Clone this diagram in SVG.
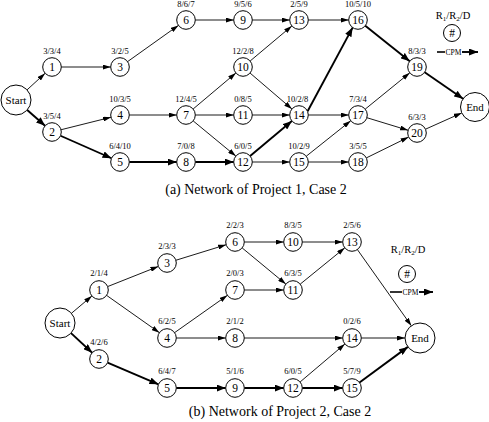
<svg xmlns="http://www.w3.org/2000/svg" width="489" height="422" viewBox="0 0 489 422">
<style>
  text { font-family: "Liberation Serif", "Times New Roman", serif; fill: #000; text-anchor: middle; }
  .nd circle { fill: #fff; stroke: #000; stroke-width: 1; }
  .num { font-size: 11.5px; }
  .se { font-size: 11px; }
  .lbl { font-size: 8.5px; }
  .cap { font-size: 14px; }
  .leg { font-size: 10.5px; }
  .cpm { font-size: 7.5px; text-anchor: start; }
  .thin { stroke: #000; stroke-width: 0.9; fill: none; marker-end: url(#ah); }
  .bold { stroke: #000; stroke-width: 1.9; fill: none; marker-end: url(#ahb); }
  .plain { stroke: #000; stroke-width: 1.6; fill: none; }
</style>
<defs>
  <marker id="ah" markerUnits="userSpaceOnUse" viewBox="0 0 8 5" refX="8" refY="2.5" markerWidth="8" markerHeight="5" orient="auto">
    <path d="M0,0 L8,2.5 L0,5 Z" fill="#000"/>
  </marker>
  <marker id="ahb" markerUnits="userSpaceOnUse" viewBox="0 0 9 7" refX="9" refY="3.5" markerWidth="9" markerHeight="7" orient="auto">
    <path d="M0,0 L9,3.5 L0,7 Z" fill="#000"/>
  </marker>
</defs>
<rect width="489" height="422" fill="#fff"/>

<!-- ===== Project 1 connectors ===== -->
<g id="p1-connectors">
  <line class="thin" x1="27.06" y1="89.86" x2="45.14" y2="73.28"/>
  <line class="bold" x1="27.21" y1="109.96" x2="45.05" y2="125.82"/>
  <line class="thin" x1="61.3" y1="67" x2="110.7" y2="67"/>
  <line class="thin" x1="127.58" y1="61.61" x2="178.42" y2="25.39"/>
  <line class="thin" x1="195.3" y1="20" x2="233.7" y2="20"/>
  <line class="thin" x1="252.3" y1="20" x2="289.7" y2="20"/>
  <line class="thin" x1="308.3" y1="20" x2="348.7" y2="20"/>
  <line class="bold" x1="365.27" y1="25.79" x2="409.73" y2="61.21"/>
  <line class="bold" x1="424.66" y1="72.28" x2="463.06" y2="98.77"/>
  <line class="thin" x1="61.02" y1="129.74" x2="110.98" y2="117.26"/>
  <line class="bold" x1="60.51" y1="135.75" x2="111.49" y2="158.25"/>
  <line class="thin" x1="129.3" y1="115" x2="176.7" y2="115"/>
  <line class="bold" x1="129.3" y1="162" x2="176.7" y2="162"/>
  <line class="thin" x1="193.11" y1="109.01" x2="235.89" y2="72.99"/>
  <line class="thin" x1="195.3" y1="115" x2="233.7" y2="115"/>
  <line class="thin" x1="193.18" y1="120.92" x2="235.82" y2="156.08"/>
  <line class="bold" x1="195.3" y1="162" x2="233.7" y2="162"/>
  <line class="thin" x1="250.12" y1="61.02" x2="291.88" y2="25.98"/>
  <line class="thin" x1="250.06" y1="73.05" x2="291.94" y2="108.95"/>
  <line class="thin" x1="252.3" y1="115" x2="289.7" y2="115"/>
  <line class="bold" x1="250.12" y1="156.02" x2="291.88" y2="120.98"/>
  <line class="thin" x1="252.3" y1="162" x2="289.7" y2="162"/>
  <line class="bold" x1="307.6" y1="111.2" x2="352.6" y2="27.6"/>
  <line class="thin" x1="308.3" y1="115" x2="348.7" y2="115"/>
  <line class="thin" x1="306.27" y1="156.21" x2="350.73" y2="120.79"/>
  <line class="thin" x1="308.3" y1="162" x2="348.7" y2="162"/>
  <line class="thin" x1="365.21" y1="109.13" x2="409.79" y2="72.87"/>
  <line class="thin" x1="366.90" y1="117.71" x2="408.10" y2="130.29"/>
  <line class="thin" x1="366.35" y1="157.90" x2="408.65" y2="137.10"/>
  <line class="thin" x1="425.49" y1="129.20" x2="461.77" y2="112.93"/>
</g>

<!-- ===== Project 1 nodes ===== -->
<g id="p1-start" class="nd"><circle cx="16" cy="100" r="15"/><text class="se" x="16" y="104">Start</text></g>
<g id="p1-n1" class="nd"><circle cx="52" cy="67" r="9.3"/><text class="num" x="52" y="71">1</text><text class="lbl" x="52" y="54">3/3/4</text></g>
<g id="p1-n2" class="nd"><circle cx="52" cy="132" r="9.3"/><text class="num" x="52" y="136">2</text><text class="lbl" x="52" y="119">3/5/4</text></g>
<g id="p1-n3" class="nd"><circle cx="120" cy="67" r="9.3"/><text class="num" x="120" y="71">3</text><text class="lbl" x="120" y="54">3/2/5</text></g>
<g id="p1-n4" class="nd"><circle cx="120" cy="115" r="9.3"/><text class="num" x="120" y="119">4</text><text class="lbl" x="120" y="102">10/3/5</text></g>
<g id="p1-n5" class="nd"><circle cx="120" cy="162" r="9.3"/><text class="num" x="120" y="166">5</text><text class="lbl" x="120" y="149">6/4/10</text></g>
<g id="p1-n6" class="nd"><circle cx="186" cy="20" r="9.3"/><text class="num" x="186" y="24">6</text><text class="lbl" x="186" y="7">8/6/7</text></g>
<g id="p1-n7" class="nd"><circle cx="186" cy="115" r="9.3"/><text class="num" x="186" y="119">7</text><text class="lbl" x="186" y="102">12/4/5</text></g>
<g id="p1-n8" class="nd"><circle cx="186" cy="162" r="9.3"/><text class="num" x="186" y="166">8</text><text class="lbl" x="186" y="149">7/0/8</text></g>
<g id="p1-n9" class="nd"><circle cx="243" cy="20" r="9.3"/><text class="num" x="243" y="24">9</text><text class="lbl" x="243" y="7">9/5/6</text></g>
<g id="p1-n10" class="nd"><circle cx="243" cy="67" r="9.3"/><text class="num" x="243" y="71">10</text><text class="lbl" x="243" y="54">12/2/8</text></g>
<g id="p1-n11" class="nd"><circle cx="243" cy="115" r="9.3"/><text class="num" x="243" y="119">11</text><text class="lbl" x="243" y="102">0/8/5</text></g>
<g id="p1-n12" class="nd"><circle cx="243" cy="162" r="9.3"/><text class="num" x="243" y="166">12</text><text class="lbl" x="243" y="149">6/0/5</text></g>
<g id="p1-n13" class="nd"><circle cx="299" cy="20" r="9.3"/><text class="num" x="299" y="24">13</text><text class="lbl" x="299" y="7">2/5/9</text></g>
<g id="p1-n14" class="nd"><circle cx="299" cy="115" r="9.3"/><text class="num" x="299" y="119">14</text><text class="lbl" x="297.5" y="102">10/2/8</text></g>
<g id="p1-n15" class="nd"><circle cx="299" cy="162" r="9.3"/><text class="num" x="299" y="166">15</text><text class="lbl" x="299" y="149">10/2/9</text></g>
<g id="p1-n16" class="nd"><circle cx="358" cy="20" r="9.3"/><text class="num" x="358" y="24">16</text><text class="lbl" x="358" y="7">10/5/10</text></g>
<g id="p1-n17" class="nd"><circle cx="358" cy="115" r="9.3"/><text class="num" x="358" y="119">17</text><text class="lbl" x="358" y="102">7/3/4</text></g>
<g id="p1-n18" class="nd"><circle cx="358" cy="162" r="9.3"/><text class="num" x="358" y="166">18</text><text class="lbl" x="358" y="149">3/5/5</text></g>
<g id="p1-n19" class="nd"><circle cx="417" cy="67" r="9.3"/><text class="num" x="417" y="71">19</text><text class="lbl" x="417" y="54">8/3/3</text></g>
<g id="p1-n20" class="nd"><circle cx="417" cy="133" r="9.3"/><text class="num" x="417" y="137">20</text><text class="lbl" x="417" y="120">6/3/3</text></g>
<g id="p1-end" class="nd"><circle cx="475" cy="107" r="14.5"/><text class="se" x="475" y="111">End</text></g>

<!-- Project 1 legend -->
<g id="p1-legend">
  <text class="leg" x="453" y="19">R<tspan font-size="7" dy="2">1</tspan><tspan dy="-2">/R</tspan><tspan font-size="7" dy="2">2</tspan><tspan dy="-2">/D</tspan></text>
  <g class="nd"><circle cx="452" cy="33" r="8.5"/><text class="num" x="452" y="37">#</text></g>
  <line class="plain" x1="437" y1="52" x2="445" y2="52"/>
  <text class="cpm" x="445.5" y="54.7">CPM</text>
  <line class="bold" x1="462" y1="52" x2="478" y2="52"/>
</g>

<text class="cap" x="256" y="193.5">(a) Network of Project 1, Case 2</text>

<!-- ===== Project 2 connectors ===== -->
<g id="p2-connectors">
  <line class="thin" x1="71.45" y1="313.31" x2="91.90" y2="296.01"/>
  <line class="bold" x1="71.02" y1="333.17" x2="92.17" y2="352.69"/>
  <line class="thin" x1="107.64" y1="286.57" x2="158.36" y2="266.43"/>
  <line class="thin" x1="106.60" y1="295.36" x2="159.40" y2="332.64"/>
  <line class="bold" x1="107.55" y1="362.65" x2="158.45" y2="384.35"/>
  <line class="thin" x1="175.89" y1="260.26" x2="226.11" y2="244.74"/>
  <line class="thin" x1="174.60" y1="332.64" x2="227.40" y2="295.36"/>
  <line class="thin" x1="176.3" y1="338" x2="225.7" y2="338"/>
  <line class="bold" x1="176.3" y1="388" x2="225.7" y2="388"/>
  <line class="thin" x1="244.3" y1="242" x2="283.7" y2="242"/>
  <line class="thin" x1="242.16" y1="247.93" x2="285.84" y2="284.07"/>
  <line class="thin" x1="244.3" y1="290" x2="283.7" y2="290"/>
  <line class="thin" x1="302.3" y1="242" x2="342.7" y2="242"/>
  <line class="thin" x1="300.21" y1="284.13" x2="344.79" y2="247.87"/>
  <line class="thin" x1="357.38" y1="249.59" x2="411.33" y2="325.76"/>
  <line class="thin" x1="244.3" y1="338" x2="342.7" y2="338"/>
  <line class="thin" x1="361.3" y1="338" x2="405" y2="338"/>
  <line class="bold" x1="244.3" y1="388" x2="283.7" y2="388"/>
  <line class="thin" x1="300.09" y1="381.99" x2="344.91" y2="344.01"/>
  <line class="bold" x1="302.3" y1="388" x2="342.7" y2="388"/>
  <line class="bold" x1="359.49" y1="382.49" x2="407.91" y2="346.89"/>
</g>

<!-- ===== Project 2 nodes ===== -->
<g id="p2-start" class="nd"><circle cx="60" cy="323" r="15"/><text class="se" x="60" y="327">Start</text></g>
<g id="p2-n1" class="nd"><circle cx="99" cy="290" r="9.3"/><text class="num" x="99" y="294">1</text><text class="lbl" x="99" y="276">2/1/4</text></g>
<g id="p2-n2" class="nd"><circle cx="99" cy="359" r="9.3"/><text class="num" x="99" y="363">2</text><text class="lbl" x="99" y="345">4/2/6</text></g>
<g id="p2-n3" class="nd"><circle cx="167" cy="263" r="9.3"/><text class="num" x="167" y="267">3</text><text class="lbl" x="167" y="249">2/3/3</text></g>
<g id="p2-n4" class="nd"><circle cx="167" cy="338" r="9.3"/><text class="num" x="167" y="342">4</text><text class="lbl" x="167" y="324">6/2/5</text></g>
<g id="p2-n5" class="nd"><circle cx="167" cy="388" r="9.3"/><text class="num" x="167" y="392">5</text><text class="lbl" x="167" y="374">6/4/7</text></g>
<g id="p2-n6" class="nd"><circle cx="235" cy="242" r="9.3"/><text class="num" x="235" y="246">6</text><text class="lbl" x="235" y="228">2/2/3</text></g>
<g id="p2-n7" class="nd"><circle cx="235" cy="290" r="9.3"/><text class="num" x="235" y="294">7</text><text class="lbl" x="235" y="276">2/0/3</text></g>
<g id="p2-n8" class="nd"><circle cx="235" cy="338" r="9.3"/><text class="num" x="235" y="342">8</text><text class="lbl" x="235" y="324">2/1/2</text></g>
<g id="p2-n9" class="nd"><circle cx="235" cy="388" r="9.3"/><text class="num" x="235" y="392">9</text><text class="lbl" x="235" y="374">5/1/6</text></g>
<g id="p2-n10" class="nd"><circle cx="293" cy="242" r="9.3"/><text class="num" x="293" y="246">10</text><text class="lbl" x="293" y="228">8/3/5</text></g>
<g id="p2-n11" class="nd"><circle cx="293" cy="290" r="9.3"/><text class="num" x="293" y="294">11</text><text class="lbl" x="293" y="276">6/3/5</text></g>
<g id="p2-n12" class="nd"><circle cx="293" cy="388" r="9.3"/><text class="num" x="293" y="392">12</text><text class="lbl" x="293" y="374">6/0/5</text></g>
<g id="p2-n13" class="nd"><circle cx="352" cy="242" r="9.3"/><text class="num" x="352" y="246">13</text><text class="lbl" x="352" y="228">2/5/6</text></g>
<g id="p2-n14" class="nd"><circle cx="352" cy="338" r="9.3"/><text class="num" x="352" y="342">14</text><text class="lbl" x="352" y="324">0/2/6</text></g>
<g id="p2-n15" class="nd"><circle cx="352" cy="388" r="9.3"/><text class="num" x="352" y="392">15</text><text class="lbl" x="352" y="374">5/7/9</text></g>
<g id="p2-end" class="nd"><circle cx="420" cy="338" r="15"/><text class="se" x="420" y="342">End</text></g>

<!-- Project 2 legend -->
<g id="p2-legend">
  <text class="leg" x="408" y="253">R<tspan font-size="7" dy="2">1</tspan><tspan dy="-2">/R</tspan><tspan font-size="7" dy="2">2</tspan><tspan dy="-2">/D</tspan></text>
  <g class="nd"><circle cx="407" cy="274" r="8.5"/><text class="num" x="407" y="278">#</text></g>
  <line class="plain" x1="390" y1="292" x2="402" y2="292"/>
  <text class="cpm" x="402.5" y="294.7">CPM</text>
  <line class="bold" x1="419" y1="292" x2="433" y2="292"/>
</g>

<text class="cap" x="280" y="416">(b) Network of Project 2, Case 2</text>
</svg>
